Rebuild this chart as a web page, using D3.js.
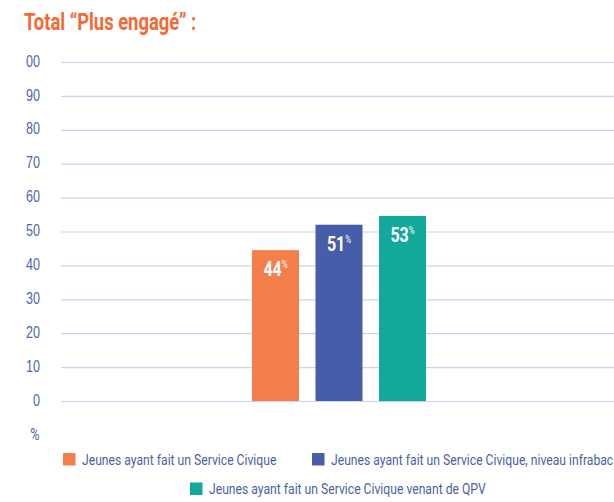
<!DOCTYPE html>
<html><head><meta charset="utf-8">
<script src="https://cdn.jsdelivr.net/npm/d3@7"></script>
<style>
html,body{margin:0;padding:0;background:#fff;}
svg{display:block;font-family:Roboto,"DejaVu Sans Condensed",sans-serif;}
</style></head><body>
<svg id="c" width="614" height="502"></svg>
<script>
const title = "Total “Plus engagé” :";
const series = ["Jeunes ayant fait un Service Civique",
                "Jeunes ayant fait un Service Civique, niveau infrabac",
                "Jeunes ayant fait un Service Civique venant de QPV"];
const values = [44.5, 52, 54.6];
const valueLabels = ["44", "51", "53"];
const colors = ["#f47f4a", "#475da9", "#12a89b"];
const tickValues = [0, 10, 20, 30, 40, 50, 60, 70, 80, 90, 100];
const tickLabels = ["0", "10", "20", "30", "40", "50", "60", "70", "80", "90", "00"];
const unitLabel = "%";

(function () {
const svg = d3.select("#c");
const pLeft = 61, pRight = 617, pTop = 62, pBottom = 401;
const y = d3.scaleLinear().domain([0, 100]).range([pBottom, pTop]);
const centre = (pLeft + pRight) / 2;
const x = d3.scaleBand().domain(series).range([centre - 95.25, centre + 95.25])
  .paddingInner(0.26).paddingOuter(0.13);

// helper: place a horizontally condensed text at (px,py)
function ctext(parent, px, py, s) {
  return parent.append("g").attr("transform", `translate(${px},${py}) scale(${s},1)`)
    .append("text").attr("x", 0).attr("y", 0);
}

ctext(svg, 24, 29.5, 0.8)
  .attr("fill", "#f26a35").attr("font-weight", "bold").attr("font-size", 23)
  .text(title);

const yAxis = d3.axisLeft(y).tickValues(tickValues).tickSize(-(pRight - pLeft))
  .tickPadding(21).tickFormat((d, i) => tickLabels[i]);
const ga = svg.append("g").attr("transform", `translate(${pLeft},0)`).call(yAxis);
ga.select(".domain").remove();
ga.selectAll(".tick line").attr("stroke", "#cfd1ee").attr("stroke-width", 1.2);
ga.selectAll(".tick text").attr("fill", "#4c67b0").attr("font-size", 17)
  .attr("font-family", "inherit")
  .attr("x", 0).attr("dy", "0.3em")
  .attr("transform", "translate(-21,-1) scale(0.74,1)");

ctext(svg, 39.5, 440, 0.74).attr("text-anchor", "end")
  .attr("fill", "#4c67b0").attr("font-size", 17).text(unitLabel);

svg.append("g").selectAll("rect").data(series).join("rect")
  .attr("x", d => x(d)).attr("width", x.bandwidth())
  .attr("y", (d, i) => y(values[i])).attr("height", (d, i) => y(0) - y(values[i]))
  .attr("fill", (d, i) => colors[i]);

const lab = svg.append("g").selectAll("g").data(series).join("g")
  .attr("transform", (d, i) => `translate(${x(d) + x.bandwidth() / 2},${y(values[i]) + 26}) scale(0.8,1)`)
  .append("text")
  .attr("text-anchor", "middle").attr("fill", "#fff").attr("font-weight", "bold")
  .attr("font-size", 20);
lab.append("tspan").text((d, i) => valueLabels[i]);
lab.append("tspan").attr("font-size", 10).attr("font-weight", "normal").attr("dy", -8).text("%");

const legendPos = [[63, 464.5], [312, 464.5], [190, 494]];
const lg = svg.append("g").selectAll("g").data(series).join("g")
  .attr("transform", (d, i) => `translate(${legendPos[i][0]},${legendPos[i][1]})`);
lg.append("rect").attr("x", 0).attr("y", -11.5).attr("width", 12.5).attr("height", 12.5)
  .attr("fill", (d, i) => colors[i]);
lg.append("g").attr("transform", "translate(19,0) scale(0.785,1)")
  .append("text").attr("x", 0).attr("y", 0).attr("fill", "#4a5fa8").attr("font-size", 15.5)
  .text(d => d);
})();
</script></body></html>
